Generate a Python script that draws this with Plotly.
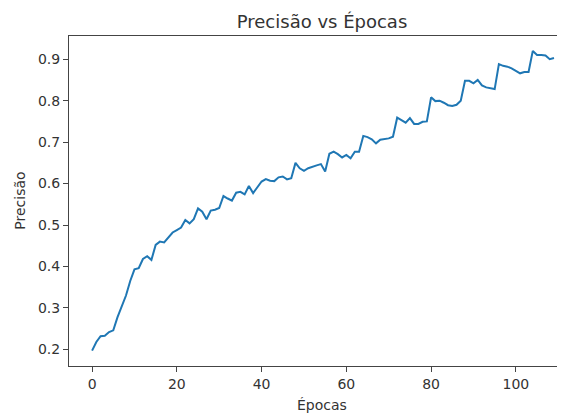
import plotly.graph_objects as go

epochs = list(range(110))
precisao = [
    0.197, 0.218, 0.232, 0.233, 0.242, 0.246, 0.278, 0.305, 0.330, 0.365,
    0.393, 0.396, 0.418, 0.425, 0.416, 0.452, 0.460, 0.458, 0.470, 0.482,
    0.488, 0.494, 0.512, 0.504, 0.514, 0.540, 0.532, 0.514, 0.535, 0.537,
    0.541, 0.570, 0.564, 0.559, 0.578, 0.580, 0.574, 0.594, 0.577, 0.592,
    0.605, 0.611, 0.607, 0.606, 0.615, 0.617, 0.610, 0.613, 0.650, 0.637,
    0.631, 0.637, 0.641, 0.644, 0.647, 0.629, 0.672, 0.677, 0.671, 0.663,
    0.669, 0.661, 0.677, 0.677, 0.715, 0.712, 0.707, 0.697, 0.706, 0.707,
    0.709, 0.713, 0.759, 0.753, 0.747, 0.758, 0.744, 0.744, 0.749, 0.750,
    0.808, 0.799, 0.800, 0.795, 0.789, 0.787, 0.790, 0.800, 0.848, 0.848,
    0.842, 0.850, 0.837, 0.832, 0.830, 0.828, 0.888, 0.884, 0.882, 0.878,
    0.872, 0.866, 0.869, 0.869, 0.920, 0.910, 0.910, 0.909, 0.900, 0.903,
]
x_ticks = [0, 20, 40, 60, 80, 100]
y_ticks = [0.2, 0.3, 0.4, 0.5, 0.6, 0.7, 0.8, 0.9]

font = "DejaVu Sans"
txt = "#333333"
# page body has an 8px margin, so the figure is drawn 8px right/down
OFF = 8
W, H = 565 - OFF, 416 - OFF
L, R, T, B = 69.3 - OFF, 0, 36 - OFF, 416 - 366
PW, PH = W - L - R, H - T - B

fig = go.Figure(go.Scatter(
    x=epochs, y=precisao, mode="lines",
    line=dict(color="#1f77b4", width=2),
    showlegend=False, hoverinfo="skip",
))

fig.update_layout(
    width=W, height=H,
    margin=dict(l=L, r=R, t=T, b=B, pad=0, autoexpand=False),
    paper_bgcolor="white", plot_bgcolor="white",
    font=dict(family=font, size=14, color=txt),
    title=dict(text="Precisão vs Épocas", x=(322 - OFF) / W, xanchor="center",
               y=1 - (22 - OFF) / H, yanchor="middle",
               font=dict(family=font, size=18, color=txt)),
    annotations=[
        dict(text="Épocas", xref="paper", yref="paper",
             x=(322 - OFF - L) / PW, y=-(405 - 366) / PH,
             xanchor="center", yanchor="middle", showarrow=False,
             font=dict(family=font, size=14, color=txt)),
        dict(text="Precisão", xref="paper", yref="paper",
             x=-(L - (20 - OFF)) / PW, y=0.5, textangle=-90,
             xanchor="center", yanchor="middle", showarrow=False,
             font=dict(family=font, size=14, color=txt)),
    ],
)
fig.update_xaxes(
    range=[-5.45, 111.6], tickvals=x_ticks, ticktext=[str(v) for v in x_ticks],
    automargin=False, showgrid=False, zeroline=False,
    showline=True, linecolor="#444444", linewidth=1, mirror=True,
    ticks="outside", ticklen=5, tickcolor="#444444", tickwidth=1,
    tickfont=dict(family=font, size=14, color=txt),
)
fig.update_yaxes(
    range=[0.160, 0.956], tickvals=y_ticks, ticktext=[f"{v:.1f}" for v in y_ticks],
    automargin=False, showgrid=False, zeroline=False,
    showline=True, linecolor="#444444", linewidth=1, mirror=False,
    ticks="outside", ticklen=5, tickcolor="#444444", tickwidth=1,
    tickfont=dict(family=font, size=14, color=txt),
)

fig.write_html("out.html")
